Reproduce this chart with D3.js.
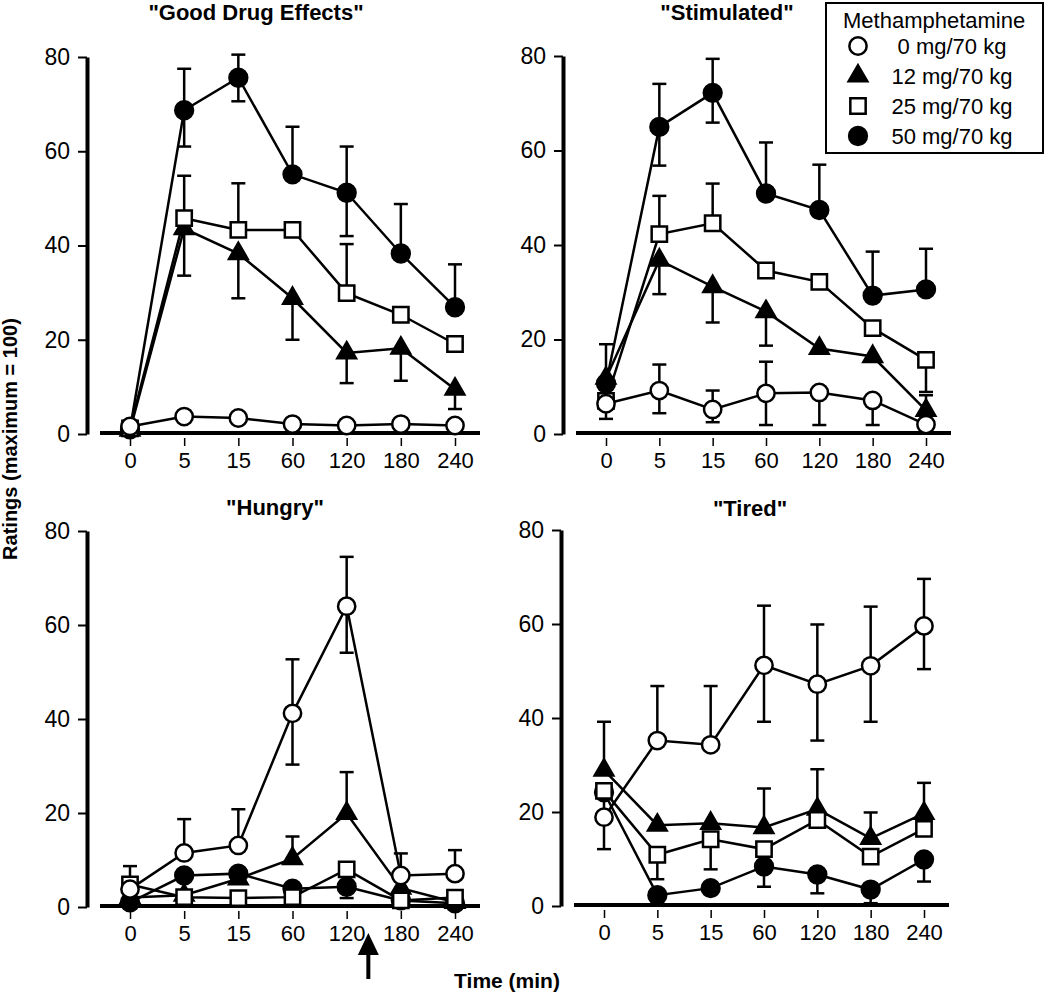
<!DOCTYPE html>
<html>
<head>
<meta charset="utf-8">
<script src="https://cdn.jsdelivr.net/npm/d3@7"></script>
<style>
  body { margin: 0; background: #fff; }
  svg { font-family: "Liberation Sans", Arial, Helvetica, sans-serif; }
</style>
</head>
<body>
<svg id="fig" width="1050" height="994"></svg>
<script>
const times = ["0", "5", "15", "60", "120", "180", "240"];
const doses = ["0 mg/70 kg", "12 mg/70 kg", "25 mg/70 kg", "50 mg/70 kg"];
const yTicks = [0, 20, 40, 60, 80];

// each panel: 4 series in dose order 0, 12, 25, 50 mg/70 kg
const goodMean = [
    [1.6, 3.7, 3.4, 2.1, 1.8, 2.1, 1.8],
    [0.8, 43.6, 38.3, 28.8, 17.2, 18.2, 9.5],
    [1.2, 45.8, 43.3, 43.3, 29.9, 25.3, 19.1],
    [1.0, 68.7, 75.6, 55.1, 51.2, 38.3, 26.9]
];
const goodUp = [
    [0, 0, 0, 0, 0, 0, 0],
    [0, 0, 0, 0, 0, 0, 0],
    [0, 9.0, 9.9, 0, 10.4, 0, 0],
    [0, 8.8, 4.9, 10.1, 9.8, 10.5, 9.1]
];
const goodDown = [
    [0, 0, 0, 0, 0, 0, 0],
    [0, 10.0, 9.5, 8.8, 6.4, 6.9, 4.2],
    [0, 0, 0, 0, 0, 0, 0],
    [0, 7.7, 5.0, 0, 9.2, 0, 0]
];

const stimMean = [
    [6.4, 9.2, 5.2, 8.6, 8.8, 7.1, 2.0],
    [11.8, 36.8, 31.2, 25.9, 18.1, 16.4, 5.0],
    [7.0, 42.3, 44.6, 34.6, 32.2, 22.4, 15.7],
    [10.7, 65.0, 72.2, 50.9, 47.4, 29.3, 30.6]
];
const stimUp = [
    [0, 5.5, 4.0, 6.7, 0, 0, 0],
    [7.2, 0, 0, 0, 0, 0, 3.2],
    [0, 8.1, 8.4, 0, 0, 0, 0],
    [0, 9.1, 7.2, 10.8, 9.6, 9.3, 8.6]
];
const stimDown = [
    [3.2, 4.8, 2.7, 6.7, 6.9, 5.2, 0],
    [0, 7.2, 7.6, 7.2, 0, 0, 0],
    [0, 0, 0, 0, 0, 0, 6.8],
    [0, 8.2, 6.3, 0, 0, 0, 0]
];

const hungryMean = [
    [3.8, 11.5, 13.1, 41.2, 64.0, 6.7, 7.1],
    [2.0, 2.5, 6.0, 10.3, 19.9, 4.0, 1.0],
    [4.8, 2.1, 1.9, 2.1, 8.0, 1.4, 2.0],
    [1.0, 6.7, 7.1, 3.9, 4.3, 1.4, 0.8]
];
const hungryUp = [
    [4.9, 7.2, 7.7, 11.5, 10.5, 4.7, 5.0],
    [0, 0, 0, 4.7, 8.8, 0, 0],
    [0, 0, 0, 0, 0, 0, 0],
    [0, 0, 0, 0, 0, 0, 0]
];
const hungryDown = [
    [0, 0, 0, 10.9, 9.9, 0, 0],
    [0, 0, 0, 0, 0, 0, 0],
    [0, 0, 0, 0, 0, 0, 0],
    [0, 0, 0, 0, 2.4, 0, 0]
];

const tiredMean = [
    [18.9, 35.2, 34.3, 51.2, 47.2, 51.1, 59.6],
    [28.9, 17.2, 17.6, 16.7, 20.6, 14.4, 19.7],
    [24.5, 10.9, 14.2, 12.1, 18.3, 10.5, 16.4],
    [24.2, 2.3, 3.8, 8.4, 6.7, 3.5, 9.9]
];
const tiredUp = [
    [6.8, 11.6, 12.5, 12.7, 12.7, 12.6, 10.0],
    [10.3, 0, 0, 8.3, 8.5, 5.5, 6.5],
    [0, 0, 0, 0, 0, 0, 0],
    [0, 0, 0, 0, 0, 0, 0]
];
const tiredDown = [
    [6.8, 0, 0, 12.0, 12.0, 11.9, 9.2],
    [0, 0, 0, 0, 0, 0, 0],
    [0, 5.2, 6.4, 0, 0, 0, 0],
    [0, 0, 0, 4.3, 4.0, 2.9, 4.7]
];

const arrowTime = 0.4; // fraction between 120 and 180 min in "Hungry"

const panels = [
    {title: '"Good Drug Effects"', mean: goodMean, up: goodUp, down: goodDown,
     x0: 130, x1: 455, yTop: 57, yBot: 434, titleX: 256, titleY: 20},
    {title: '"Stimulated"', mean: stimMean, up: stimUp, down: stimDown,
     x0: 606, x1: 926, yTop: 56, yBot: 434, titleX: 727, titleY: 20},
    {title: '"Hungry"', mean: hungryMean, up: hungryUp, down: hungryDown,
     x0: 130, x1: 455, yTop: 531, yBot: 907, titleX: 275, titleY: 515, arrow: true},
    {title: '"Tired"', mean: tiredMean, up: tiredUp, down: tiredDown,
     x0: 604, x1: 924, yTop: 530, yBot: 906, titleX: 750, titleY: 516}
];

// marker styles for 0, 12, 25, 50 mg
const markers = [
    {type: d3.symbolCircle, size: 235, fill: "#fff"},
    {type: d3.symbolTriangle, size: 150, fill: "#000"},
    {type: d3.symbolSquare, size: 235, fill: "#fff"},
    {type: d3.symbolCircle, size: 250, fill: "#000"}
];
const drawOrder = [3, 1, 2, 0];

const svg = d3.select("#fig");

function drawPanel(p) {
    const g = svg.append("g");
    const x = d3.scalePoint().domain(times).range([p.x0, p.x1]);
    const y = d3.scaleLinear().domain([0, 80]).range([p.yBot, p.yTop]);

    // y axis
    const axisX = p.x0 - 43;
    const yAxis = g.append("g")
        .attr("transform", `translate(${axisX},0)`)
        .call(d3.axisLeft(y).tickValues(yTicks).tickSize(9).tickPadding(8).tickSizeOuter(0));
    yAxis.select(".domain").attr("stroke-width", 4);
    yAxis.selectAll(".tick line").attr("stroke-width", 2);
    yAxis.selectAll(".tick text").attr("font-size", 23).attr("fill", "#000");

    // x axis
    const xAxis = g.append("g")
        .attr("transform", `translate(0,${y(0)})`)
        .call(d3.axisBottom(x).tickSize(12).tickPadding(6).tickSizeOuter(0));
    xAxis.select(".domain").remove();
    xAxis.selectAll(".tick line").attr("y1", 4).attr("stroke-width", 1.5);
    xAxis.selectAll(".tick text").attr("font-size", 22).attr("fill", "#000");
    xAxis.append("line")
        .attr("x1", p.x0 - 30).attr("x2", p.x1 + 25)
        .attr("y1", -1).attr("y2", -1)
        .attr("stroke", "#000").attr("stroke-width", 4);

    // title
    g.append("text")
        .attr("x", p.titleX).attr("y", p.titleY)
        .attr("text-anchor", "middle")
        .attr("font-size", 22).attr("font-weight", "bold")
        .text(p.title);

    // error bars
    const cap = 7;
    drawOrder.forEach(s => {
        p.mean[s].forEach((m, i) => {
            const cx = x(times[i]);
            const ends = [];
            if (p.up[s][i] > 0) ends.push(m + p.up[s][i]);
            if (p.down[s][i] > 0) ends.push(m - p.down[s][i]);
            ends.forEach(e => {
                g.append("line")
                    .attr("x1", cx).attr("x2", cx)
                    .attr("y1", y(m)).attr("y2", y(e))
                    .attr("stroke", "#000").attr("stroke-width", 2.5);
                g.append("line")
                    .attr("x1", cx - cap).attr("x2", cx + cap)
                    .attr("y1", y(e)).attr("y2", y(e))
                    .attr("stroke", "#000").attr("stroke-width", 2.5);
            });
        });
    });

    // lines
    const line = d3.line().x((d, i) => x(times[i])).y(d => y(d));
    drawOrder.forEach(s => {
        g.append("path")
            .datum(p.mean[s])
            .attr("d", line)
            .attr("fill", "none")
            .attr("stroke", "#000")
            .attr("stroke-width", 2.5);
    });

    // markers
    drawOrder.forEach(s => {
        const mk = markers[s];
        g.selectAll(null)
            .data(p.mean[s])
            .enter().append("path")
            .attr("transform", (d, i) => `translate(${x(times[i])},${y(d)})`)
            .attr("d", d3.symbol().type(mk.type).size(mk.size))
            .attr("fill", mk.fill)
            .attr("stroke", "#000")
            .attr("stroke-width", 2.5);
    });

    if (p.arrow) {
        const ax = x("120") + arrowTime * (x("180") - x("120"));
        g.append("line")
            .attr("x1", ax).attr("x2", ax)
            .attr("y1", 950).attr("y2", 979)
            .attr("stroke", "#000").attr("stroke-width", 4);
        g.append("path")
            .attr("d", `M${ax},933 L${ax - 10.5},955 L${ax + 10.5},955 Z`)
            .attr("fill", "#000");
    }
}

panels.forEach(drawPanel);

// shared axis titles
svg.append("text")
    .attr("transform", "translate(17,439) rotate(-90)")
    .attr("text-anchor", "middle")
    .attr("font-size", 20).attr("font-weight", "bold")
    .text("Ratings (maximum = 100)");

svg.append("text")
    .attr("x", 507).attr("y", 988)
    .attr("text-anchor", "middle")
    .attr("font-size", 21).attr("font-weight", "bold")
    .text("Time (min)");

// legend
const legend = svg.append("g");
legend.append("rect")
    .attr("x", 826).attr("y", 3).attr("width", 217).attr("height", 150)
    .attr("fill", "#fff").attr("stroke", "#000").attr("stroke-width", 2);
legend.append("text")
    .attr("x", 843).attr("y", 28)
    .attr("font-size", 22)
    .text("Methamphetamine");
doses.forEach((d, i) => {
    const cy = 46 + i * 30;
    const mk = markers[i];
    legend.append("path")
        .attr("transform", `translate(858,${cy})`)
        .attr("d", d3.symbol().type(mk.type).size(mk.size))
        .attr("fill", mk.fill)
        .attr("stroke", "#000")
        .attr("stroke-width", 2.5);
    legend.append("text")
        .attr("x", 952).attr("y", cy + 8)
        .attr("text-anchor", "middle")
        .attr("font-size", 22)
        .text(d);
});
</script>
</body>
</html>
